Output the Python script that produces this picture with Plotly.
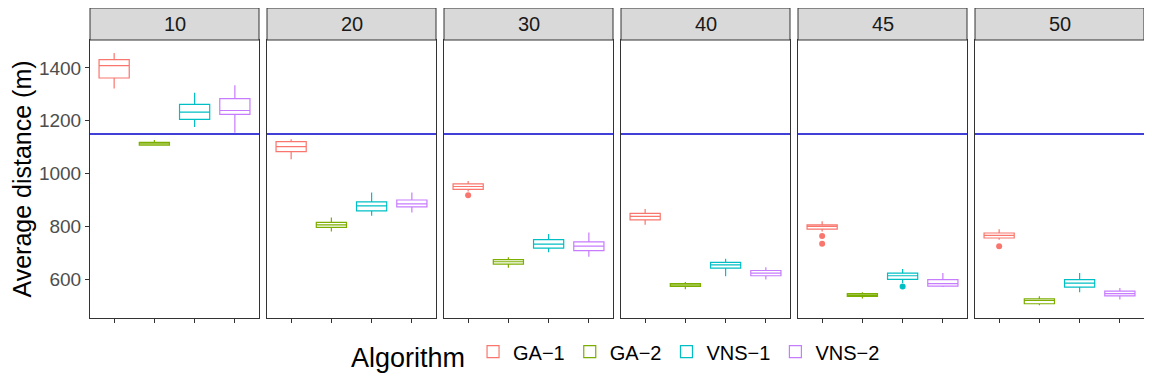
import plotly.graph_objects as go
from plotly.subplots import make_subplots

# problem sizes (facets) and algorithms
sizes = ["10", "20", "30", "40", "45", "50"]
algorithms = ["GA-1", "GA-2", "VNS-1", "VNS-2"]
labels = ["GA\u22121", "GA\u22122", "VNS\u22121", "VNS\u22122"]
colors = ["#F8766D", "#7CAE00", "#00BFC4", "#C77CFF"]

# box statistics, one row per algorithm, one column per size
lower = [[1322, 1054, 932, 806, 781, 749],
         [1106, 781, 643, 562, 527, 501],
         [1176, 840, 702, 611, 586, 551],
         [1155, 853, 685, 599, 570, 523]]
q1 = [[1362, 1083, 940, 825, 790, 756],
      [1108, 796, 657, 573, 535, 507],
      [1205, 859, 718, 642, 599, 570],
      [1224, 874, 708, 613, 574, 537]]
median = [[1409, 1102, 951, 838, 800, 766],
          [1113, 806, 666, 578, 540, 520],
          [1233, 878, 733, 654, 613, 585],
          [1239, 885, 725, 623, 583, 545]]
q3 = [[1432, 1121, 961, 849, 806, 775],
      [1118, 815, 674, 583, 545, 526],
      [1262, 893, 750, 664, 623, 598],
      [1284, 900, 741, 633, 598, 555]]
upper = [[1457, 1130, 972, 866, 819, 789],
         [1127, 834, 683, 589, 551, 535],
         [1306, 928, 771, 677, 639, 623],
         [1335, 928, 777, 645, 623, 567]]

# outliers
out_size = ["30", "45", "45", "50", "45"]
out_algo = ["GA-1", "GA-1", "GA-1", "GA-1", "VNS-1"]
out_value = [918, 764, 734, 725, 572]

reference_line = 1150

fig = make_subplots(rows=1, cols=6, shared_yaxes=True, horizontal_spacing=8/1054)

for j, size in enumerate(sizes):
    for i, algo in enumerate(algorithms):
        fig.add_trace(go.Box(
            x=[algo], q1=[q1[i][j]], median=[median[i][j]], q3=[q3[i][j]],
            lowerfence=[lower[i][j]], upperfence=[upper[i][j]],
            name=labels[i], legendgroup=algo, showlegend=(j == 0),
            line=dict(color=colors[i], width=1.2), fillcolor="white",
            whiskerwidth=0, width=0.75, boxpoints=False,
        ), row=1, col=j + 1)

for s, a, v in zip(out_size, out_algo, out_value):
    k = algorithms.index(a)
    fig.add_trace(go.Scatter(
        x=[a], y=[v], mode="markers", showlegend=False, legendgroup=a,
        marker=dict(color=colors[k], size=6),
    ), row=1, col=sizes.index(s) + 1)

fig.add_hline(y=reference_line, line_color="#0000CD", line_width=1.3)

# page body adds 8px offset, so the figure is laid out 8px up/left
ytop = 278 / 310
fig.update_xaxes(categoryorder="array", categoryarray=algorithms, range=[-0.6, 3.6],
                 showticklabels=False, ticks="outside", ticklen=4, tickcolor="#333333",
                 showgrid=False, zeroline=False, showline=True, linecolor="#333333",
                 linewidth=1, mirror=True)
fig.update_yaxes(domain=[0, ytop], range=[453, 1506], tickvals=[600, 800, 1000, 1200, 1400],
                 ticks="", showgrid=False,
                 zeroline=False, showline=True, linecolor="#333333", linewidth=1,
                 mirror=True, tickfont=dict(size=19, color="#4D4D4D"))
fig.update_yaxes(ticks="outside", ticklen=4, tickcolor="#333333",
                 title=dict(text="Average distance (m)", font=dict(size=25, color="black"),
                            standoff=6), row=1, col=1)

for j, size in enumerate(sizes):
    xr = "x domain" if j == 0 else "x%d domain" % (j + 1)
    fig.add_shape(type="rect", xref=xr, yref="paper", x0=0, x1=1, y0=ytop, y1=1,
                  fillcolor="#D9D9D9", line=dict(color="#333333", width=1))
    fig.add_annotation(text=size, xref=xr, yref="paper", x=0.5, y=(ytop + 1) / 2,
                       xanchor="center", yanchor="middle", showarrow=False,
                       font=dict(size=20, color="#1A1A1A"))

fig.update_layout(
    width=1144, height=376,
    margin=dict(l=82, r=8, t=0, b=66),
    plot_bgcolor="white", paper_bgcolor="white",
    font=dict(family="Liberation Sans, Arial, sans-serif"),
    boxmode="overlay",
    legend=dict(orientation="h", x=0.5, xanchor="center", y=-0.12, yanchor="middle",
                title=dict(text="Algorithm", font=dict(size=27, color="black")),
                font=dict(size=20, color="black")),
)

fig.write_html("out.html")
